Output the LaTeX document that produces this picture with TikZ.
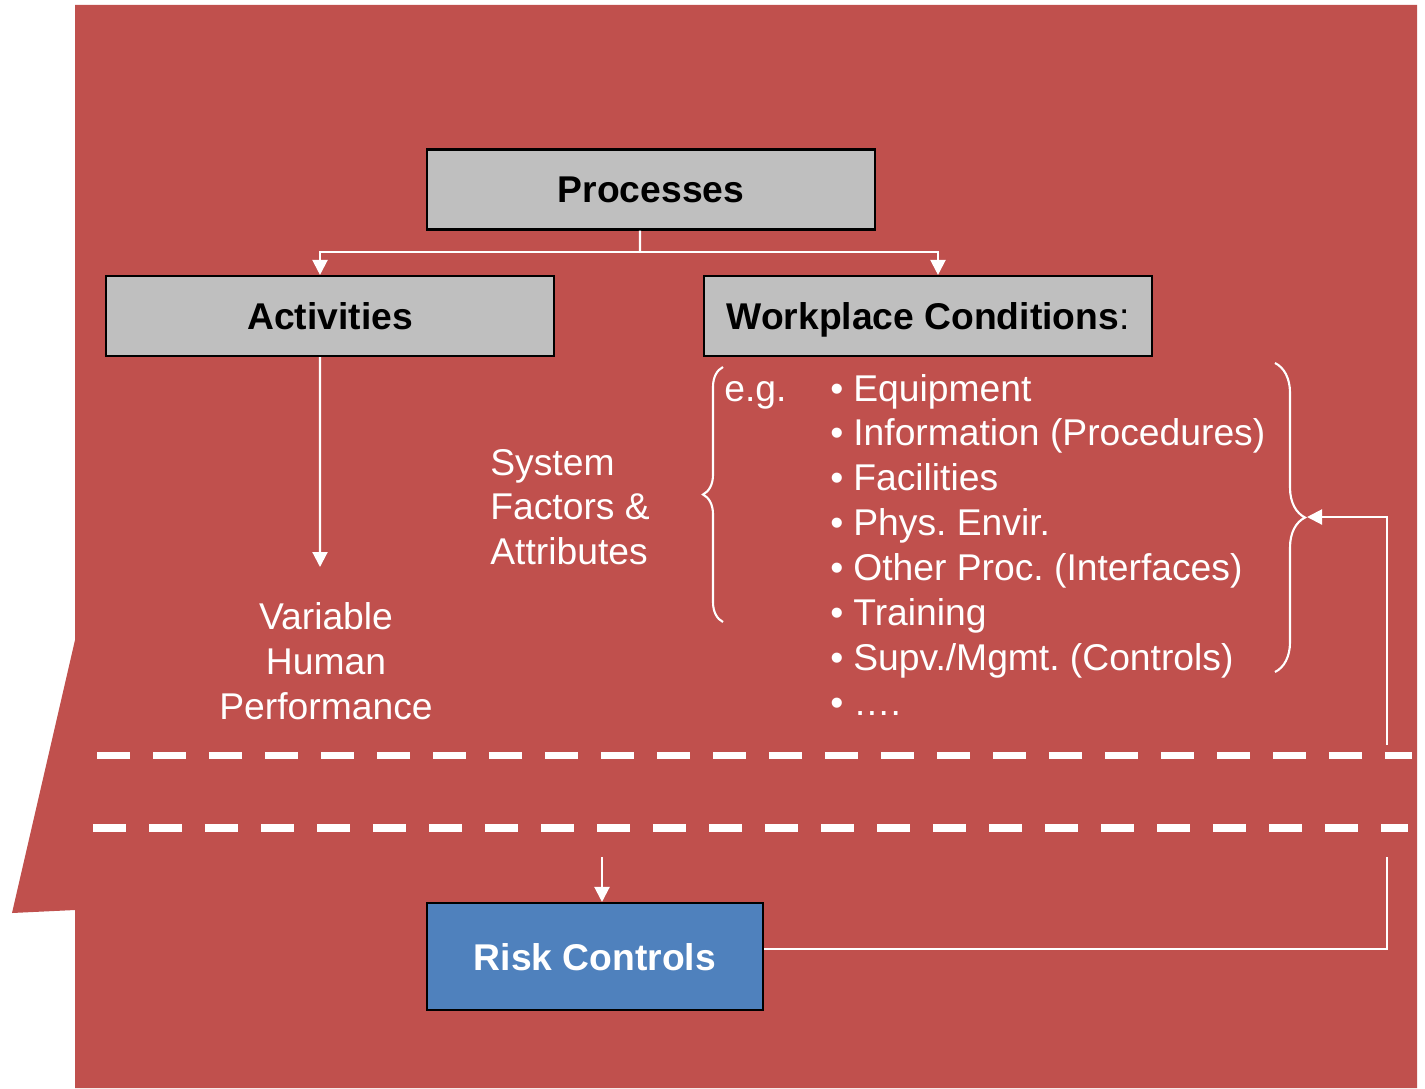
\documentclass[tikz,border=0pt]{standalone}
\usepackage{fontspec}
\setmainfont{Liberation Sans}
\usetikzlibrary{positioning,arrows.meta,decorations.pathreplacing}
\definecolor{riskred}{HTML}{C0504D}
\definecolor{boxgray}{HTML}{BFBFBF}
\definecolor{riskblue}{HTML}{4F81BD}
\newcommand{\itm}[1]{\makebox[0.46cm][l]{•}#1}
\frenchspacing

\begin{document}
\begin{tikzpicture}[
    x=0.02cm, y=-0.02cm,
    box/.style={
        rectangle, draw=black, line width=1.2pt, fill=boxgray,
        minimum width=8.96cm, minimum height=1.6cm,
        text height=0.54cm, text depth=0pt,
        font=\fontsize{21.2}{25.5}\selectfont\bfseries
    },
    txt/.style={text=white, inner sep=0pt, font=\fontsize{21.2}{25.5}\selectfont},
    wline/.style={draw=white, line width=1.2pt},
    warrow/.style={wline, -{Triangle[length=0.3cm, width=0.3cm]}},
    cut/.style={white, line width=4.3pt, dash pattern=on 0.66cm off 0.46cm},
    wbrace/.style={white, line width=1.2pt, decorate, decoration={brace, amplitude=#1}}
]
\useasboundingbox (0,0) rectangle (1425,1088);
\fill[riskred] (75,5) -- (1417,5) -- (1417,1088) -- (75,1088) -- (75,910)
    -- (12,913) -- (75,640) -- cycle;

% boxes
\node[box]                  (proc) at (651,189.5) {Processes};
\node[box]                  (act)  at (330,316)   {Activities};
\node[box, right=2.96cm of act] (work)            {Workplace Conditions\mdseries:};
\node[box, fill=riskblue, text=white, minimum width=6.72cm, minimum height=2.14cm]
                            (risk) at (595,956.5) {Risk Controls};

% texts
\node[txt, align=center]          (perf) at (326,661) {Variable\\Human\\Performance};
\node[txt, align=left, anchor=west] (sys) at (490,507) {System\\Factors \&\\Attributes};
\node[txt, anchor=base west]      (eg)   at (724,401) {e.g.};
\node[txt, anchor=base west]      (equ)  at (830,401)   {\itm{Equipment}};
\node[txt, anchor=base west]      (info) at (830,445.9) {\itm{Information (Procedures)}};
\node[txt, anchor=base west]      (fac)  at (830,490.8) {\itm{Facilities}};
\node[txt, anchor=base west]      (phys) at (830,535.7) {\itm{Phys. Envir.}};
\node[txt, anchor=base west]      (oth)  at (830,580.6) {\itm{Other Proc. (Interfaces)}};
\node[txt, anchor=base west]      (trn)  at (830,625.5) {\itm{Training}};
\node[txt, anchor=base west]      (supv) at (830,670.4) {\itm{Supv./Mgmt. (Controls)}};
\node[txt, anchor=base west]      (more) at (830,715.3) {\itm{….}};

% braces
\draw[wbrace=0.4cm] (723,622) -- (723,367);
\draw[wbrace=0.6cm] (1275,363) -- (1275,672);

% cut lines
\draw[cut] (97,755.5) -- (1412,755.5);
\draw[cut] (93,828) -- (1408,828);

% connectors
\coordinate (split) at (640,252);
\draw[wline]  ([xshift=-0.22cm]proc.south) -- (split);
\draw[warrow] (split) -| ([xshift=-0.2cm]act.north);
\draw[warrow] (split) -| ([xshift=0.2cm]work.north);

\coordinate (perfin) at (320,567);
\draw[warrow] ([xshift=-0.2cm]act.south) -- (perfin);

\coordinate (riskin) at (602,857);
\draw[warrow] (riskin) -- (riskin |- risk.north);

\coordinate (fbtop) at (1387,745);
\coordinate (fbbot) at (1387,857);
\coordinate (tip)   at (1307,517);
\draw[warrow] (fbtop) |- (tip);
\draw[wline]  ([yshift=0.15cm]risk.east) -| (fbbot);
\end{tikzpicture}
\end{document}
